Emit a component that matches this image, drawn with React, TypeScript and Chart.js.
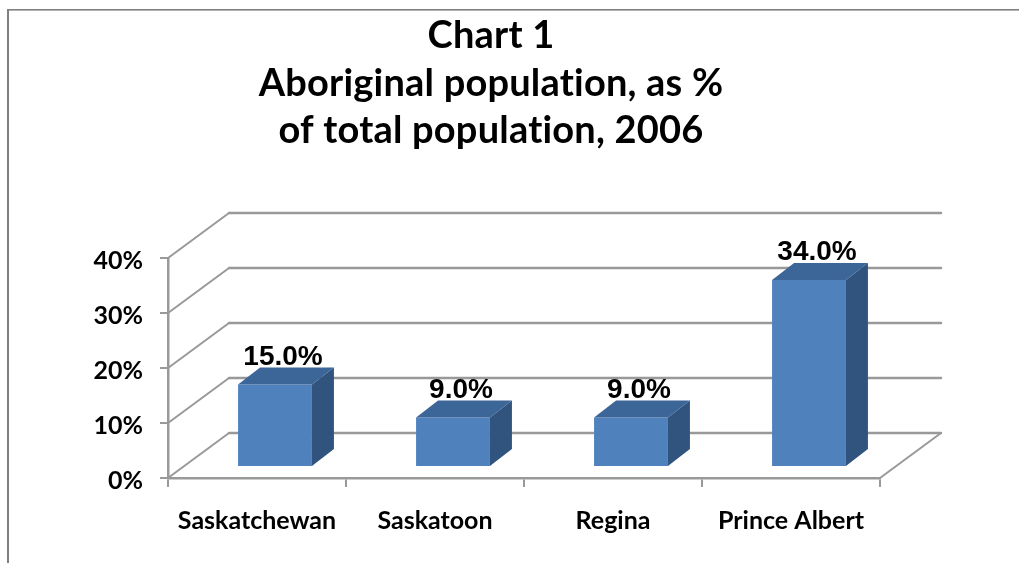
import React, { useEffect, useRef } from "react";
import { Chart, registerables } from "chart.js";

Chart.register(...registerables);

// ---- data ----
const categories: string[] = ["Saskatchewan", "Saskatoon", "Regina", "Prince Albert"];
const shares: number[] = [15.0, 9.0, 9.0, 34.0];
const yTickValues: number[] = [0, 10, 20, 30, 40];
const titleLines: string[] = [
  "Chart 1",
  "Aboriginal population, as %",
  "of total population, 2006",
];

// ---- style ----
const CAL = "Lato, 'Open Sans', sans-serif";
const ARIAL = "'Liberation Sans', Arial, sans-serif";
const GRID = "#999999";
const FRONT = "#4F81BD";
const TOP = "#3C6598";
const SIDE = "#31547F";
const WALL_DX = 61;
const WALL_DY = 45;
const PLANE_DX = 18;
const PLANE_DY = 11;
const BAR_DX = 22;
const BAR_DY = 17;

const chart3dPlugin = {
  id: "chart3d",
  beforeDraw(chart: any) {
    const { ctx } = chart;
    ctx.save();
    ctx.fillStyle = "#ffffff";
    ctx.fillRect(0, 0, chart.width, chart.height);
    // frame
    ctx.fillStyle = "#808080";
    ctx.fillRect(7, 9, 2, chart.height - 9);
    ctx.fillRect(7, 9, chart.width - 7, 1.6);
    // title
    ctx.fillStyle = "#000";
    ctx.font = `bold 38px ${CAL}`;
    try {
      (ctx as any).letterSpacing = "0.2px";
    } catch (e) {}
    ctx.textAlign = "center";
    ctx.textBaseline = "alphabetic";
    const baselines = [48, 96, 143];
    titleLines.forEach((t, i) => ctx.fillText(t, 491, baselines[i]));
    ctx.restore();
  },
  beforeDatasetsDraw(chart: any) {
    const { ctx, chartArea } = chart;
    const ys = chart.scales.y;
    ctx.save();
    ctx.strokeStyle = GRID;
    ctx.lineCap = "round";
    yTickValues.forEach((v) => {
      const y = ys.getPixelForValue(v);
      ctx.lineWidth = 2;
      ctx.beginPath();
      ctx.moveTo(chartArea.left, y);
      ctx.lineTo(chartArea.left + WALL_DX, y - WALL_DY);
      ctx.stroke();
      ctx.lineWidth = 2.5;
      ctx.beginPath();
      ctx.moveTo(chartArea.left + WALL_DX, y - WALL_DY);
      ctx.lineTo(chartArea.right + WALL_DX, y - WALL_DY);
      ctx.stroke();
    });
    ctx.lineWidth = 2;
    ctx.beginPath();
    ctx.moveTo(chartArea.right, chartArea.bottom);
    ctx.lineTo(chartArea.right + WALL_DX, chartArea.bottom - WALL_DY);
    ctx.stroke();
    ctx.restore();
    // shift bars into the middle plane
    ctx.save();
    ctx.translate(PLANE_DX, -PLANE_DY);
  },
  afterDatasetsDraw(chart: any) {
    const { ctx } = chart;
    const meta = chart.getDatasetMeta(0);
    meta.data.forEach((bar: any) => {
      const { x, y, base, width } = bar.getProps(["x", "y", "base", "width"], true);
      const l = x - width / 2;
      const r = x + width / 2;
      ctx.fillStyle = SIDE;
      ctx.beginPath();
      ctx.moveTo(r, y);
      ctx.lineTo(r + BAR_DX, y - BAR_DY);
      ctx.lineTo(r + BAR_DX, base - BAR_DY);
      ctx.lineTo(r, base);
      ctx.closePath();
      ctx.fill();
      ctx.fillStyle = TOP;
      ctx.beginPath();
      ctx.moveTo(l, y);
      ctx.lineTo(l + BAR_DX, y - BAR_DY);
      ctx.lineTo(r + BAR_DX, y - BAR_DY);
      ctx.lineTo(r, y);
      ctx.closePath();
      ctx.fill();
    });
    ctx.restore();
    // data labels
    ctx.save();
    ctx.fillStyle = "#000";
    ctx.font = `bold 28px ${ARIAL}`;
    ctx.textAlign = "center";
    ctx.textBaseline = "alphabetic";
    meta.data.forEach((bar: any, i: number) => {
      const { x, y } = bar.getProps(["x", "y"], true);
      ctx.fillText(shares[i].toFixed(1) + "%", x + PLANE_DX + 8, y - PLANE_DY - 20);
    });
    ctx.restore();
  },
};

export default function App() {
  const ref = useRef<HTMLCanvasElement | null>(null);
  useEffect(() => {
    if (!ref.current) return;
    const chart = new Chart(ref.current, {
      type: "bar",
      data: {
        labels: categories,
        datasets: [
          {
            data: shares,
            backgroundColor: FRONT,
            borderWidth: 0,
            categoryPercentage: 0.83,
            barPercentage: 0.5,
          },
        ],
      },
      options: {
        animation: false,
        responsive: false,
        maintainAspectRatio: false,
        layout: { padding: { top: 258, right: 139, left: 0, bottom: 0 } },
        plugins: {
          legend: { display: false },
          title: { display: false },
          tooltip: { enabled: false },
        },
        scales: {
          x: {
            type: "category",
            offset: true,
            grid: {
              display: true,
              offset: true,
              drawOnChartArea: false,
              drawTicks: true,
              tickLength: 9,
              color: GRID,
              lineWidth: 2,
            },
            border: { display: true, color: GRID, width: 2.5 },
            ticks: {
              color: "#000",
              font: { family: CAL, weight: "bold", size: 25 },
              padding: 19,
              maxRotation: 0,
              autoSkip: false,
            },
            afterFit: (s: any) => {
              s.height = 85;
            },
          },
          y: {
            min: 0,
            max: 40,
            ticks: {
              stepSize: 10,
              color: "#000",
              font: { family: CAL, weight: "bold", size: 25 },
              padding: 17,
              labelOffset: 3,
              callback: (v: any) => v + "%",
            },
            grid: {
              display: true,
              drawOnChartArea: false,
              drawTicks: true,
              tickLength: 8,
              color: GRID,
              lineWidth: 2,
            },
            border: { display: true, color: GRID, width: 2.5 },
            afterFit: (s: any) => {
              s.width = 168;
            },
          },
        },
      },
      plugins: [chart3dPlugin],
    });
    return () => chart.destroy();
  }, []);
  return (
    <div style={{ position: "fixed", left: 0, top: 0, width: 1019, height: 563 }}>
      <canvas ref={ref} width={1019} height={563} style={{ display: "block" }} />
    </div>
  );
}
